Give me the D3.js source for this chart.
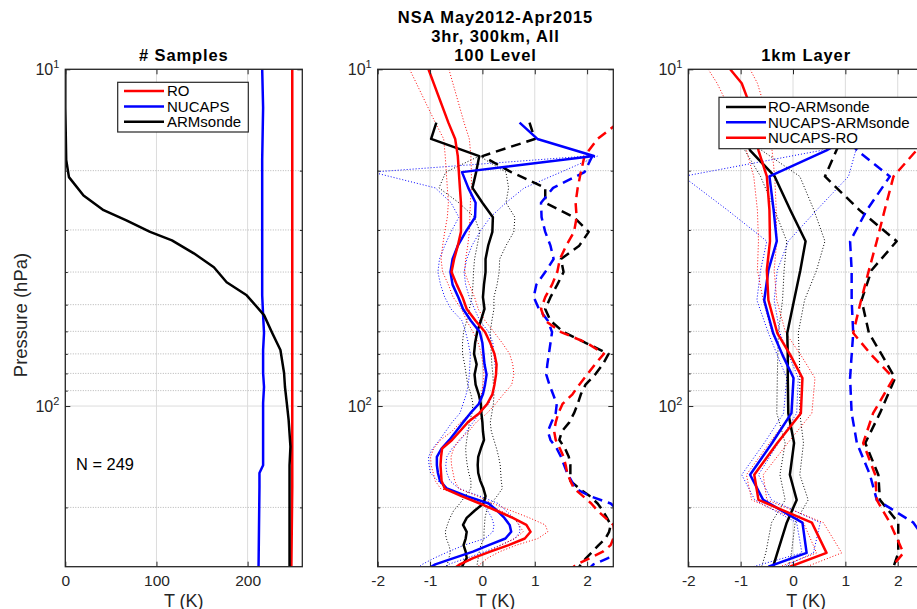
<!DOCTYPE html>
<html>
<head>
<meta charset="utf-8">
<script src="https://cdn.jsdelivr.net/npm/d3@7"></script>
<style>
html,body{margin:0;padding:0;background:#fff;}
svg{display:block;}
text{font-family:"Liberation Sans",Arial,Helvetica,sans-serif;}
</style>
</head>
<body>
<svg id="chart" width="917" height="609"></svg>
<script>
// ================= DATA =================
// Panel 1: number of samples
const levSamples = [10, 13, 18.6, 20.9, 23.7, 26.2, 28.1, 30.4, 32.2, 35.2, 38.7, 42.9, 46.9, 53.7, 60.7, 68.2, 79.8, 87.8, 98, 110, 132, 150, 158, 174, 300];
const nRO       = [249,249,249,249,249,249,249,249,249,249,249,249,249,249,249,249,249,249,249,249,249,249,249,249,248];
const nNUCAPS   = [216,217,216,216,216,216,216,216,216,216,216,216,216,217,218,217,217,218,217,217,217,217,213,213,212];
const nARMsonde = [0,0,1,4,20,42,67,93,117,141,163,177,199,218,227,236,240,241,243,245,247,246,246,246,246];

// Panel 2: 100 Level differences (K)
const lev100 = [10, 14.4, 16.1, 18.1, 20.2, 22.5, 24.9, 27.5, 30.4, 33.4, 36.6, 40, 43.6, 47.5, 51.5, 55.8, 60.3, 65, 70, 75.2, 80.7, 86.4, 92.3, 98.6, 105, 111.8, 118.8, 126.1, 133.7, 141.5, 149.7, 158.1, 166.8, 175.8, 185.1, 194.7, 204.6, 214.9, 225.4, 236.3, 247.4, 258.9, 270.7, 282.9, 295.3, 308.1];
const roArmMean100 = [null,-0.88,-0.98,-0.06,-0.12,-0.19,0.0,0.20,0.19,0.11,0.06,0.06,0.03,0.01,0.04,-0.03,-0.10,-0.14,-0.16,-0.11,-0.15,-0.13,-0.07,-0.03,-0.02,0.0,0.01,0.03,-0.03,-0.08,-0.09,-0.08,-0.04,0.02,0.06,0.02,-0.15,-0.30,-0.37,-0.30,-0.32,-0.36,-0.32,-0.30,-0.37,-0.42];
const roArmLo100 = [null,null,null,-0.06,-0.70,-0.83,-0.45,-0.15,-0.05,-0.10,-0.15,-0.17,-0.18,-0.20,-0.25,-0.30,-0.36,-0.38,-0.38,-0.34,-0.31,-0.28,-0.22,-0.18,-0.20,-0.25,-0.27,-0.30,-0.32,-0.31,-0.29,-0.26,-0.22,-0.22,-0.33,-0.43,-0.55,-0.62,-0.67,-0.71,-0.69,-0.64,-0.61,-0.64,-0.67,-0.70];
const roArmHi100 = [null,null,null,-0.06,0.45,0.50,0.45,0.62,0.60,0.45,0.33,0.32,0.28,0.22,0.22,0.18,0.15,0.16,0.17,0.18,0.20,0.21,0.22,0.21,0.18,0.15,0.17,0.22,0.27,0.31,0.34,0.35,0.36,0.38,0.28,0.17,0.08,0.05,0.04,0.03,0.03,-0.03,-0.06,-0.08,-0.10,-0.12];
const roArmStd100 = [null,0.90,1.0,0.0,0.55,1.2,1.2,1.75,2.03,1.85,1.5,1.55,1.43,1.3,1.2,1.3,1.55,1.98,2.41,2.3,2.15,1.97,1.88,1.82,1.75,1.66,1.52,1.47,1.58,1.65,1.68,1.68,1.68,1.85,2.05,2.2,2.3,2.38,2.45,2.42,2.35,2.22,2.1,1.98,1.88,1.8];

const nucArmMean100 = [null,0.71,1.05,2.13,-0.39,-0.27,-0.13,-0.14,-0.32,-0.47,-0.57,-0.61,-0.57,-0.46,-0.37,-0.22,-0.05,0.0,0.02,0.04,0.08,0.05,0.01,-0.07,-0.23,-0.37,-0.50,-0.63,-0.78,-0.87,-0.87,-0.85,-0.81,-0.68,-0.30,0.12,0.28,0.42,0.52,0.55,0.44,0.12,-0.18,-0.55,-0.90,-1.1];
const nucArmLo100 = [null,null,null,2.0,-2.1,-0.9,-0.6,-0.45,-0.6,-0.72,-0.82,-0.85,-0.8,-0.72,-0.6,-0.39,-0.32,-0.27,-0.23,-0.24,-0.25,-0.27,-0.31,-0.37,-0.43,-0.58,-0.70,-0.82,-0.95,-1.03,-1.02,-0.99,-0.85,-0.70,-0.30,0.0,0.10,0.18,0.22,0.20,0.05,-0.35,-0.65,-0.92,-1.15,-1.3];
const nucArmHi100 = [null,null,null,2.2,1.5,0.8,0.45,0.15,-0.05,-0.2,-0.3,-0.35,-0.32,-0.25,-0.15,-0.05,0.12,0.2,0.22,0.24,0.26,0.23,0.2,0.12,-0.05,-0.18,-0.3,-0.42,-0.58,-0.68,-0.7,-0.68,-0.62,-0.45,-0.05,0.3,0.45,0.6,0.7,0.72,0.62,0.35,0.05,-0.3,-0.65,-0.85];
const nucArmStd100 = [null,null,null,2.1,1.95,1.35,1.12,1.13,1.2,1.3,1.36,1.2,1.03,0.98,1.08,1.25,1.33,1.3,1.27,1.24,1.22,1.28,1.35,1.42,1.40,1.32,1.25,1.30,1.42,1.50,1.56,1.62,1.70,1.78,2.05,2.45,2.6,2.6,2.6,2.6,2.6,2.6,2.55,2.4,2.12,2.0];

const nucRoMean100 = [-1.03,-0.65,-0.52,-0.47,-0.45,-0.43,-0.41,-0.41,-0.41,-0.47,-0.54,-0.59,-0.49,-0.38,-0.30,-0.13,0.05,0.15,0.23,0.27,0.26,0.23,0.19,0.09,-0.06,-0.28,-0.43,-0.58,-0.77,-0.79,-0.80,-0.79,-0.78,-0.72,-0.40,-0.05,0.27,0.58,0.84,0.92,0.81,0.50,0.15,-0.18,-0.43,-0.60];
const nucRoLo100 = [-1.39,-0.90,-0.74,-0.71,-0.69,-0.67,-0.65,-0.67,-0.72,-0.76,-0.79,-0.76,-0.65,-0.56,-0.40,-0.30,-0.18,-0.08,-0.02,0.01,0.03,0.01,-0.02,-0.08,-0.23,-0.42,-0.58,-0.80,-0.93,-0.99,-0.98,-0.94,-0.90,-0.80,-0.38,0.08,0.35,0.60,0.70,0.78,0.62,0.35,0.12,-0.15,-0.40,-0.55];
const nucRoHi100 = [-0.64,-0.35,-0.25,-0.22,-0.21,-0.21,-0.23,-0.24,-0.25,-0.28,-0.32,-0.34,-0.25,-0.15,-0.08,0.05,0.22,0.38,0.52,0.58,0.60,0.56,0.40,0.25,0.09,-0.12,-0.26,-0.45,-0.55,-0.60,-0.59,-0.56,-0.53,-0.45,-0.10,0.20,0.55,0.90,1.20,1.25,1.06,0.65,0.33,0.10,-0.05,-0.15];
const nucRoStd100 = [null,2.6,2.2,1.95,1.88,1.82,1.78,1.80,1.75,1.6,1.48,1.43,1.33,1.2,1.12,1.2,1.5,2.0,2.32,2.15,2.0,1.85,1.72,1.53,1.45,1.40,1.37,1.40,1.48,1.55,1.59,1.62,1.68,1.75,1.92,2.08,2.2,2.35,2.5,2.52,2.5,2.45,2.3,2.05,1.8,1.65];

// Panel 3: 1km Layer differences (K)
const lev1km = [10, 11, 12.1, 13.5, 15.2, 17.4, 20.8, 26.2, 32.4, 39.5, 48.5, 60.7, 70.6, 82.6, 105, 128.8, 160, 190, 222, 273, 300];
const roArmMean1km = [null,null,null,null,-0.95,-0.82,-0.35,-0.05,0.24,0.14,0.02,-0.11,-0.10,-0.10,-0.09,0.02,-0.06,0.07,-0.12,-0.30,-0.38];
const roArmLo1km   = [null,null,null,null,-1.05,-0.92,-0.62,-0.35,-0.12,-0.17,-0.20,-0.28,-0.29,-0.30,-0.31,-0.15,-0.25,-0.15,-0.41,-0.52,-0.60];
const roArmHi1km   = [null,null,null,null,-0.75,-0.60,0.13,0.40,0.61,0.45,0.22,0.10,0.12,0.13,0.13,0.20,0.13,0.29,0.04,-0.03,-0.09];
const roArmStd1km  = [null,null,null,null,1.0,0.83,0.61,1.27,1.98,1.50,1.31,1.45,1.70,1.95,1.66,1.38,1.63,1.66,2.01,2.01,1.92];

const nucArmMean1km = [null,null,null,null,1.3,0.64,-0.45,-0.37,-0.31,-0.47,-0.55,-0.38,-0.20,0.01,-0.03,-0.40,-0.82,-0.57,0.18,0.26,-0.47];
const nucArmLo1km   = [null,null,null,null,1.0,0.55,-2.1,-1.25,-0.50,-0.62,-0.69,-0.47,-0.30,-0.12,-0.18,-0.55,-0.98,-0.73,0.07,0.17,-0.76];
const nucArmHi1km   = [null,null,null,null,1.6,1.2,1.06,0.45,-0.09,-0.30,-0.36,-0.25,-0.08,0.10,0.07,-0.28,-0.66,-0.41,0.52,0.39,-0.18];
const nucArmStd1km  = [null,null,null,null,0.9,1.22,1.85,1.41,1.09,1.12,1.12,1.15,1.12,1.09,1.12,1.22,1.47,1.60,2.3,2.7,2.7];

const nucRoMean1km = [-1.20,-0.98,-0.88,-0.80,-0.74,-0.66,-0.50,-0.45,-0.44,-0.50,-0.47,-0.30,-0.05,0.18,0.15,-0.30,-0.74,-0.66,0.36,0.64,-0.06];
const nucRoLo1km   = [-1.62,-1.45,-1.32,-1.18,-1.05,-0.89,-0.75,-0.68,-0.66,-0.68,-0.57,-0.40,-0.18,0.01,-0.03,-0.45,-0.89,-0.79,0.20,0.45,-0.25];
const nucRoHi1km   = [-0.82,-0.68,-0.60,-0.52,-0.46,-0.40,-0.35,-0.32,-0.31,-0.36,-0.31,-0.14,0.15,0.42,0.36,-0.10,-0.57,-0.50,0.58,0.93,0.26];
const nucRoStd1km  = [null,null,null,null,2.8,2.36,1.92,1.75,1.60,1.45,1.30,1.15,1.50,1.92,1.53,1.34,1.57,1.60,1.85,2.11,1.89];

// Ticks and labels
const xTicksSamples = [0, 100, 200];
const xTicksDiff = [-2, -1, 0, 1, 2];
const yMajorTicks = [10, 100];
const yMinorTicks = [20, 30, 40, 50, 60, 70, 80, 90, 200];
const legendSamples = ["RO", "NUCAPS", "ARMsonde"];
const legendDiff = ["RO-ARMsonde", "NUCAPS-ARMsonde", "NUCAPS-RO"];
const titleCenter = ["NSA May2012-Apr2015", "3hr, 300km, All", "100 Level"];

// ================= DRAWING =================
const svg = d3.select("#chart");
const TOP = 69.3, BOT = 566.7;
const AX = "#262626";
const RED = "#ff0000", BLUE = "#0000ff", BLACK = "#000000";
const yScale = d3.scaleLog().domain([10, 300]).range([TOP, BOT]);
const STYLE = {
  solid: {w: 2.5, dash: null},
  dot: {w: 1, dash: "1,2"},
  dash: {w: 2.5, dash: "10,6"}
};
const defs = svg.append("defs");

function makePanel(id, x0, x1, domain, xticks) {
  const x = d3.scaleLinear().domain(domain).range([x0, x1]);
  const g = svg.append("g");
  defs.append("clipPath").attr("id", "clip" + id)
    .append("rect").attr("x", x0).attr("y", TOP).attr("width", x1 - x0).attr("height", BOT - TOP);
  g.append("g").selectAll("line").data(xticks).join("line")
    .attr("x1", d => x(d)).attr("x2", d => x(d)).attr("y1", TOP).attr("y2", BOT)
    .attr("stroke", "#dcdcdc").attr("stroke-width", 1);
  g.append("g").selectAll("line").data(yMinorTicks).join("line")
    .attr("x1", x0).attr("x2", x1).attr("y1", d => yScale(d)).attr("y2", d => yScale(d))
    .attr("stroke", "#b4b4b4").attr("stroke-width", 1).attr("stroke-dasharray", "1,1.5");
  g.append("g").selectAll("line").data(yMajorTicks).join("line")
    .attr("x1", x0).attr("x2", x1).attr("y1", d => yScale(d)).attr("y2", d => yScale(d))
    .attr("stroke", "#dcdcdc").attr("stroke-width", 1);
  const lines = g.append("g").attr("clip-path", `url(#clip${id})`);
  return {x, g, lines, x0, x1, xticks};
}

function addSeries(panel, levels, values, color, kind) {
  const data = levels.map((p, i) => ({p: p, v: values[i]}));
  const line = d3.line()
    .defined(d => d.v !== null && d.v !== undefined)
    .x(d => panel.x(d.v)).y(d => yScale(d.p));
  const st = STYLE[kind];
  const path = panel.lines.append("path").attr("d", line(data))
    .attr("fill", "none").attr("stroke", color).attr("stroke-width", st.w)
    .attr("stroke-linejoin", "round");
  if (st.dash) path.attr("stroke-dasharray", st.dash);
}

function finishAxes(panel) {
  const {x, g, x0, x1, xticks} = panel;
  const ax = g.append("g");
  ax.append("g").attr("transform", `translate(0,${BOT})`)
    .call(d3.axisBottom(x).tickValues(xticks).tickSizeInner(-5).tickSizeOuter(0).tickPadding(8.8).tickFormat(d => String(d)));
  ax.append("g").attr("transform", `translate(0,${TOP})`)
    .call(d3.axisTop(x).tickValues(xticks).tickSizeInner(-5).tickSizeOuter(0).tickFormat(""));
  ax.append("g").attr("transform", `translate(${x0},0)`)
    .call(d3.axisLeft(yScale).tickValues(yMajorTicks).tickSizeInner(-5).tickSizeOuter(0).tickFormat(""));
  ax.append("g").attr("transform", `translate(${x0},0)`)
    .call(d3.axisLeft(yScale).tickValues(yMinorTicks).tickSizeInner(-2.5).tickSizeOuter(0).tickFormat(""));
  ax.append("g").attr("transform", `translate(${x1},0)`)
    .call(d3.axisRight(yScale).tickValues(yMajorTicks).tickSizeInner(-5).tickSizeOuter(0).tickFormat(""));
  ax.append("g").attr("transform", `translate(${x1},0)`)
    .call(d3.axisRight(yScale).tickValues(yMinorTicks).tickSizeInner(-2.5).tickSizeOuter(0).tickFormat(""));
  ax.selectAll(".domain").remove();
  ax.selectAll(".tick line").attr("stroke", AX).attr("stroke-width", 1);
  ax.selectAll("g").attr("font-family", null).attr("font-size", null);
  ax.selectAll(".tick text").attr("fill", AX).attr("font-size", 15.5)
    .attr("font-family", '"Liberation Sans",Arial,Helvetica,sans-serif');
  g.append("rect").attr("x", x0).attr("y", TOP).attr("width", x1 - x0).attr("height", BOT - TOP)
    .attr("fill", "none").attr("stroke", AX).attr("stroke-width", 1.3);
  yMajorTicks.forEach(v => {
    const t = g.append("text").attr("x", x0 - 6).attr("y", yScale(v) + 5.8)
      .attr("text-anchor", "end").attr("fill", AX);
    t.append("tspan").attr("font-size", 16).text("10");
    t.append("tspan").attr("font-size", 11).attr("dy", -7.3).text(String(Math.round(Math.log10(v))));
  });
  g.append("text").attr("x", (x0 + x1) / 2).attr("y", 606.5).attr("text-anchor", "middle")
    .attr("font-size", 18).attr("fill", AX).text("T (K)");
}

function drawLegend(bx, by, bw, bh, labels, colors, lx0, lx1, tx, rowY) {
  const lg = svg.append("g");
  lg.append("rect").attr("x", bx).attr("y", by).attr("width", bw).attr("height", bh)
    .attr("fill", "#fff").attr("stroke", AX).attr("stroke-width", 1.2);
  labels.forEach((lab, i) => {
    lg.append("line").attr("x1", lx0).attr("x2", lx1).attr("y1", rowY[i]).attr("y2", rowY[i])
      .attr("stroke", colors[i]).attr("stroke-width", 2.5);
    lg.append("text").attr("x", tx).attr("y", rowY[i] + 5.4).attr("font-size", 15)
      .attr("fill", "#000").text(lab);
  });
}

function title(cx, y, txt) {
  svg.append("text").attr("x", cx).attr("y", y).attr("text-anchor", "middle")
    .attr("font-size", 16.5).attr("font-weight", "bold").attr("letter-spacing", "0.9px")
    .attr("fill", "#000").text(txt);
}

// ---- Panel 1 ----
const p1 = makePanel(1, 65.3, 302.3, [0, 260], xTicksSamples);
addSeries(p1, levSamples, nRO, RED, "solid");
addSeries(p1, levSamples, nNUCAPS, BLUE, "solid");
addSeries(p1, levSamples, nARMsonde, BLACK, "solid");
finishAxes(p1);
drawLegend(117.7, 82.3, 130.6, 49.7, legendSamples, [RED, BLUE, BLACK], 124, 164, 167, [91, 106.5, 121.8]);
svg.append("text").attr("x", 76).attr("y", 470).attr("font-size", 16.4).attr("fill", "#000")
  .text("N = " + d3.max(nRO));
svg.append("text").attr("transform", "translate(27,315) rotate(-90)").attr("text-anchor", "middle")
  .attr("font-size", 18.5).attr("fill", AX).text("Pressure (hPa)");
title((65.3 + 302.3) / 2, 60.5, "# Samples");

// ---- Panel 2 ----
const p2 = makePanel(2, 377.7, 613.3, [-2, 2.5], xTicksDiff);
addSeries(p2, lev100, roArmLo100, BLACK, "dot");
addSeries(p2, lev100, roArmHi100, BLACK, "dot");
addSeries(p2, lev100, nucArmLo100, BLUE, "dot");
addSeries(p2, lev100, nucArmHi100, BLUE, "dot");
addSeries(p2, lev100, nucRoLo100, RED, "dot");
addSeries(p2, lev100, nucRoHi100, RED, "dot");
addSeries(p2, lev100, roArmStd100, BLACK, "dash");
addSeries(p2, lev100, nucArmStd100, BLUE, "dash");
addSeries(p2, lev100, nucRoStd100, RED, "dash");
addSeries(p2, lev100, roArmMean100, BLACK, "solid");
addSeries(p2, lev100, nucArmMean100, BLUE, "solid");
addSeries(p2, lev100, nucRoMean100, RED, "solid");
finishAxes(p2);
titleCenter.forEach((t, i) => title((377.7 + 613.3) / 2, 23.3 + i * 18.6, t));

// ---- Panel 3 ----
const p3 = makePanel(3, 688.3, 923.9, [-2, 2.5], xTicksDiff);
addSeries(p3, lev1km, roArmLo1km, BLACK, "dot");
addSeries(p3, lev1km, roArmHi1km, BLACK, "dot");
addSeries(p3, lev1km, nucArmLo1km, BLUE, "dot");
addSeries(p3, lev1km, nucArmHi1km, BLUE, "dot");
addSeries(p3, lev1km, nucRoLo1km, RED, "dot");
addSeries(p3, lev1km, nucRoHi1km, RED, "dot");
addSeries(p3, lev1km, roArmStd1km, BLACK, "dash");
addSeries(p3, lev1km, nucArmStd1km, BLUE, "dash");
addSeries(p3, lev1km, nucRoStd1km, RED, "dash");
addSeries(p3, lev1km, roArmMean1km, BLACK, "solid");
addSeries(p3, lev1km, nucArmMean1km, BLUE, "solid");
addSeries(p3, lev1km, nucRoMean1km, RED, "solid");
finishAxes(p3);
drawLegend(719, 97.3, 202, 51.4, legendDiff, [BLACK, BLUE, RED], 726, 766, 768, [107, 122.3, 137.7]);
title((688.3 + 923.9) / 2, 60.5, "1km Layer");
</script>
</body>
</html>
